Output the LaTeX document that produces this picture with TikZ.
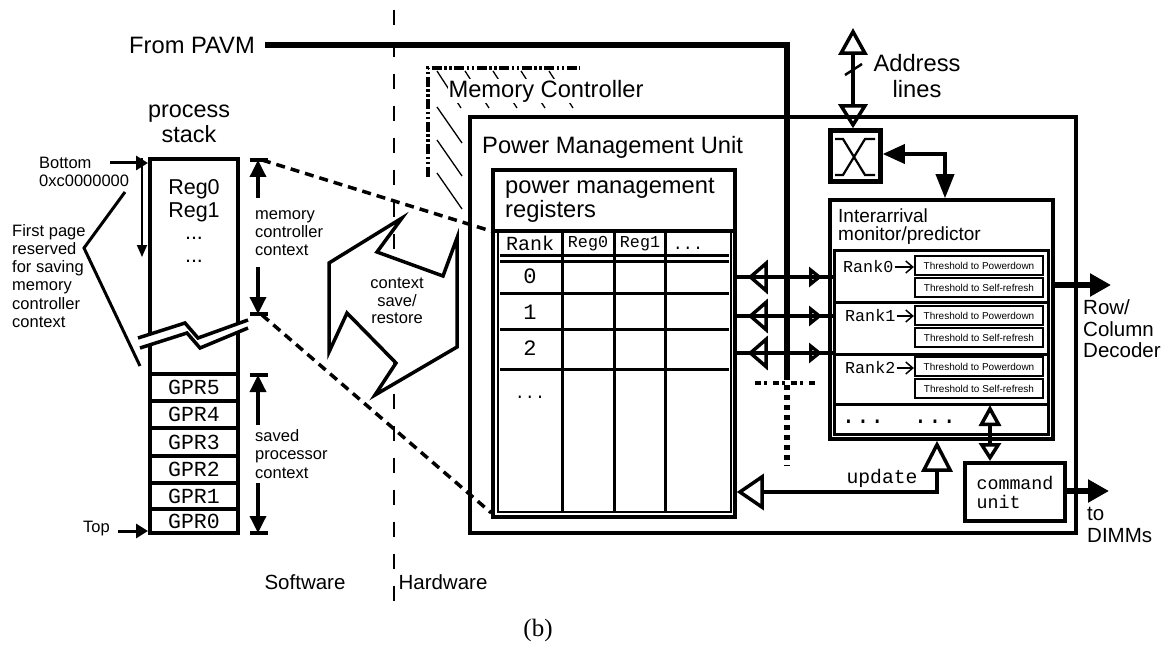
\documentclass[tikz,border=0pt]{standalone}
\usepackage{fontspec}
\setmainfont{Liberation Serif}
\setsansfont{Liberation Sans}
\setmonofont{Liberation Mono}
\usetikzlibrary{arrows.meta,fit,calc}
\tikzset{
  box/.style={draw, line width=3.5pt, inner sep=0pt},
  txt/.style={inner sep=0pt, font=\sffamily\fontsize{23.7}{24}\selectfont},
  txtm/.style={inner sep=0pt, font=\sffamily\fontsize{20.5}{21.5}\selectfont},
  txts/.style={inner sep=0pt, font=\sffamily\fontsize{16.5}{18.2}\selectfont},
  tt/.style={inner sep=0pt, font=\ttfamily\fontsize{#1}{#1}\selectfont},
  thr/.style={draw, line width=2.2pt, fill=white, minimum width=128pt, minimum height=19pt,
    inner sep=0pt, font=\sffamily\fontsize{10}{10}\selectfont},
  rule/.style={line width=3pt},
  dimbar/.style={line width=3.5pt},
  dimarrow/.style={line width=3.5pt, -{Triangle[length=17pt,width=16pt]}},
  hatch/.style={line width=1.3pt},
  opentips/.style={line width=3.5pt,
    {Triangle[open,length=20pt,width=34pt]}-{Triangle[open,length=13pt,width=20pt]},
    shorten <=11pt, shorten >=11pt},
}
\begin{document}
\begin{tikzpicture}[x=1pt,y=-1pt, line join=miter]
\useasboundingbox (0,0) rectangle (1173,650);

% ---------- software / hardware divider ----------
\draw[line width=2.2pt, dash pattern=on 15pt off 17pt] (394,10) -- (394,604);
\node[txtm] (sw) at (305,582) {Software};
\node[txtm] (hw) at (443,582) {Hardware};
\node[inner sep=0pt, font=\fontsize{25}{25}\selectfont] (cap) at (538,630) {(b)};

% ---------- process stack ----------
\node[txt, align=center, font=\sffamily\fontsize{23.4}{25}\selectfont] (pstitle) at (189,124) {process\\stack};
\node[draw, line width=4pt, inner sep=0pt, fit={(150,159) (238,533)}] (stack) {};
\foreach \y in {374,401,428,456,483,509}
  \draw[line width=3.5pt] (stack.west |- 0,\y) -- (stack.east |- 0,\y);
\foreach \y/\t in {387.5/GPR5, 414.5/GPR4, 442/GPR3, 469.5/GPR2, 496/GPR1, 521/GPR0}
  \node[tt=21.5] (\t) at (194,\y) {\t};
\node[inner sep=0pt, align=center, font=\sffamily\fontsize{21.5}{22.7}\selectfont] (mcregs) at (194,221)
  {Reg0\\Reg1\\...\\...};

% break in the stack
\fill[white] (138,338) -- (185,323) -- (198,338) -- (248,320) -- (248,328) -- (200,348) -- (187,333) -- (140,348) -- cycle;
\draw[line width=3.5pt] (138,338) -- (185,323) -- (198,338) -- (248,320);
\draw[line width=3.5pt] (140,348) -- (187,333) -- (200,348) -- (248,328);

% growth direction
\coordinate (growtop) at (142,158);
\coordinate (growend) at (142,257);
\draw[line width=1.8pt, -{Triangle[length=12pt,width=10pt]}] (growtop) -- (growend);

% bottom / top pointers
\node[txts, align=left, anchor=west] (bottom) at (39,172) {Bottom\\0xc0000000};
\coordinate (botfrom) at (110,163);
\draw[line width=3pt, -{Triangle[length=12pt,width=14pt]}] (botfrom) -- (botfrom -| stack.west);
\node[txts] (top) at (96.5,529) {Top};
\draw[line width=3pt, -{Triangle[length=12pt,width=14pt]}] ([xshift=8pt]top.east |- 0,531) -- (stack.west |- 0,531);

% first page note
\node[txts, align=left, anchor=west] (firstpage) at (12,276)
  {First page\\reserved\\for saving\\memory\\controller\\context};
\draw[line width=3pt] (125,192) -- (84,248) -- (140,366);

% context extents
\draw[dimbar] (250,160) -- (268,160);
\draw[dimbar] (250,314) -- (268,314);
\draw[dimarrow] (258,198) -- (258,160);
\draw[dimarrow] (258,267) -- (258,314);
\node[txts, align=left, anchor=west] (mcctx) at (255,233) {memory\\controller\\context};
\draw[dimbar] (250,375) -- (268,375);
\draw[dimbar] (250,533) -- (268,533);
\draw[dimarrow] (258,425) -- (258,375);
\draw[dimarrow] (258,483) -- (258,533);
\node[txts, align=left, anchor=west] (procctx) at (255,454) {saved\\processor\\context};

% ---------- memory controller ----------
\draw[line width=3.5pt, dash pattern=on 10pt off 2.5pt on 2.5pt off 2.5pt on 2.5pt off 2.5pt] (428,177) -- (428,68) -- (580,68);
\foreach \x in {437,465,493,521,549}
  \draw[hatch] (\x,71) -- ++(24,37);
\foreach \y in {107,140,173}
  \draw[hatch] (437,\y) -- ++(25,36);
\node[txt, fill=white, inner sep=1pt] (mc) at (546,91) {Memory Controller};

% ---------- power management unit ----------
\node[box, fit={(470,117) (1076,533)}] (pmu) {};
\node[txt, anchor=west] (pmut) at (482,147) {Power Management Unit};

% registers
\node[box, fill=white, fit={(493,170) (735,517)}] (regs) {};
\node[txt, align=left, anchor=west] (regst) at (505,200) {power management\\registers};
\node[draw, line width=1.8pt, inner sep=0pt, fit={(498,232) (731,512)}] (tbl) {};
\draw[line width=3.5pt] (regs.west |- tbl.north) -- (regs.east |- tbl.north);
\foreach \x in {562,614,665}
  \draw[rule] (\x,232) -- (\x,512);
\foreach \y in {255,261,293,329,369}
  \draw[rule] (500,\y) -- (729,\y);
\node[tt=20] (hrank) at (530,243) {Rank};
\node[tt=16.7] (hreg0) at (588,244) {Reg0};
\node[tt=16.7] (hreg1) at (640,244) {Reg1};
\node[tt=16.7, anchor=base] (hdots) at (688,249) {...};
\node[tt=22] (r0) at (530,276) {0};
\node[tt=22] (r1) at (530,312) {1};
\node[tt=22] (r2) at (530,348) {2};
\node[tt=16.7, anchor=base] (rdots) at (530,398) {...};

% interarrival monitor / predictor
\node[box, fill=white, fit={(830,200) (1053,439)}] (ia) {};
\node[inner sep=0pt, align=left, anchor=west, font=\sffamily\fontsize{19}{18}\selectfont] (iat) at (838,227)
  {Interarrival\\monitor/predictor};
\node[draw, line width=3pt, inner sep=0pt, fit={(834.5,250) (1048.5,434.5)}] (lst) {};
\foreach \y in {302,354,404}
  \draw[rule] (lst.west |- 0,\y) -- (lst.east |- 0,\y);
\node[thr] (th0a) at (979,265.5) {Threshold to Powerdown};
\node[thr] (th0b) at (979,287.5) {Threshold to Self-refresh};
\node[thr] (th1a) at (979,315.5) {Threshold to Powerdown};
\node[thr] (th1b) at (979,337.5) {Threshold to Self-refresh};
\node[thr] (th2a) at (979,366.5) {Threshold to Powerdown};
\node[thr] (th2b) at (979,388.5) {Threshold to Self-refresh};
\node[tt=16.7, anchor=west] (rk0) at (843,267) {Rank0};
\node[tt=16.7, anchor=west] (rk1) at (845,316) {Rank1};
\node[tt=16.7, anchor=west] (rk2) at (845,368) {Rank2};
\foreach \r/\t in {rk0/th0a, rk1/th1a, rk2/th2a}
  \draw[line width=1.5pt, -{Straight Barb[length=7pt,width=12pt]}] ([xshift=1pt]\r.east) -- (\r.east -| \t.west);
\node[tt=24, anchor=base] (ldots1) at (863,423) {...};
\node[tt=24, anchor=base] (ldots2) at (935,423) {...};

% register <-> predictor links
\foreach \y in {277,316,353} {
  \draw[line width=3.5pt] (regs.east |- 0,\y) -- (lst.west |- 0,\y);
  \draw[opentips] (regs.east |- 0,\y) -- (lst.west |- 0,\y);
}

% address crossbar
\node[box, fit={(830,130) (881,182)}] (xbox) {};
\draw[line width=1.2pt] ($(xbox.south west)+(4,-4)$) rectangle ($(xbox.north east)+(-4,4)$);
\draw[line width=2.2pt] (835,139) -- (843,139) -- (865,175) -- (875,175);
\draw[line width=2.2pt] (875,139) -- (865,139) -- (843,175) -- (835,175);
\coordinate (addr) at (853,28);
\draw[line width=3.5pt, {Triangle[open,length=27pt,width=29pt]}-{Triangle[open,length=24pt,width=29pt]}]
  (addr) -- (xbox.north -| addr);
\draw[line width=2.5pt] (845,75) -- (862,64);
\node[txt, align=center, font=\sffamily\fontsize{23.7}{26}\selectfont] (addrt) at (917,76) {Address\\lines};
\draw[line width=3.5pt, {Triangle[length=22pt,width=19pt]}-{Triangle[length=24pt,width=18pt]}]
  (xbox.east |- 0,154) -| (ia.north -| 945,0);

% command unit
\node[draw, line width=4pt, inner sep=0pt, minimum width=100pt, minimum height=58pt, align=left,
  font=\ttfamily\fontsize{18.3}{19}\selectfont] (cmd) at (1015,492) {command\\unit};
\coordinate (listport) at (990,405);
\draw[line width=3.5pt, {Triangle[open,length=21pt,width=22pt]}-{Triangle[open,length=18pt,width=22pt]}]
  (listport) -- (cmd.north -| listport);

% update path
\draw[line width=3.5pt, {Triangle[open,length=27pt,width=36pt]}-{Triangle[open,length=31pt,width=31pt]}]
  (regs.east |- 0,492) -| (ia.south -| 937,0);
\node[tt=19.7] (upd) at (882,478) {update};

% outputs
\coordinate (decout) at (1111,285);
\draw[line width=5.5pt, -{Triangle[length=21pt,width=22pt]}] (ia.east |- decout) -- (decout);
\node[txtm, align=left, anchor=west] (dec) at (1083,329) {Row/\\Column\\Decoder};
\coordinate (dimmout) at (1109,491);
\draw[line width=5.5pt, -{Triangle[length=21pt,width=22pt]}] (cmd.east |- dimmout) -- (dimmout);
\node[txtm, align=left, anchor=west] (dimm) at (1087,525) {to\\DIMMs};

% ---------- PAVM bus ----------
\node[txt] (pavm) at (192,45) {From PAVM};
\coordinate (busbend) at (787,45);
\coordinate (busend) at (787,375);
\draw[line width=6.5pt] ([xshift=10pt]pavm.east) -- (busbend) -- (busend);
\draw[line width=6.5pt, dash pattern=on 5pt off 5pt] (busend) -- (787,466);
\draw[line width=4.5pt, dash pattern=on 6pt off 3pt on 3pt off 6pt] (755,383) -- (816,383);

% ---------- links between stack and registers ----------
\draw[line width=3.5pt, dash pattern=on 9pt off 6pt] (262,160) -- (regs.west |- tbl.north);
\draw[line width=3.5pt, dash pattern=on 9pt off 6pt] (262,315) -- (regs.west |- tbl.south);

% context save / restore double arrow
\draw[line width=3.5pt, fill=white] (329,263) -- (402,218) -- (377,252) -- (443,276) -- (457,238)
  -- (457,347) -- (375,395) -- (396,363) -- (347,313) -- (329,352) -- cycle;
\node[txts, align=center, font=\sffamily\fontsize{16.5}{17.5}\selectfont] (ctx) at (397,301) {context\\save/\\restore};
\end{tikzpicture}
\end{document}
